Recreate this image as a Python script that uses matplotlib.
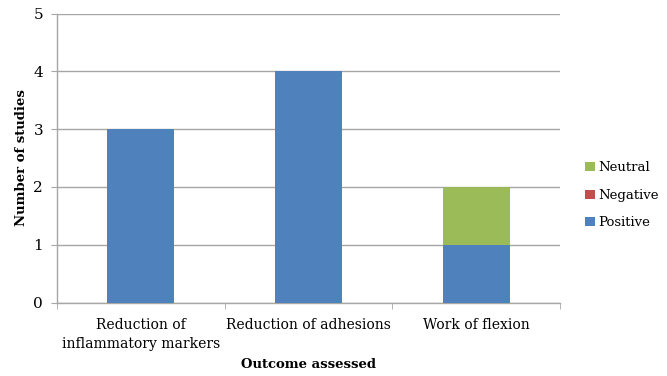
import matplotlib
matplotlib.use("Agg")
import matplotlib.pyplot as plt
import numpy as np

categories = ["Reduction of\ninflammatory markers", "Reduction of adhesions", "Work of flexion"]
positive = [3, 4, 1]
negative = [0, 0, 0]
neutral = [0, 0, 1]

plt.rcParams['font.family'] = ['DejaVu Serif']
fs = 9.5

fig = plt.figure(figsize=(6.67, 3.76), dpi=100)
ax = fig.add_axes([57/667, 1-302.5/376, (560-57)/667, (302.5-13.5)/376])

x = np.arange(len(categories))
w = 0.4
pos = np.array(positive); neg = np.array(negative); neu = np.array(neutral)
b1 = ax.bar(x, pos, w, color='#4F81BD', label='Positive', zorder=3)
b2 = ax.bar(x, neg, w, bottom=pos, color='#C0504D', label='Negative', zorder=3)
b3 = ax.bar(x, neu, w, bottom=pos+neg, color='#9BBB59', label='Neutral', zorder=3)

ax.set_xlim(-0.5, 2.5)
ax.set_ylim(0, 5)
ax.set_yticks(range(6))
ax.yaxis.grid(True, color='#A6A6A6', linewidth=1.0, zorder=0)
ax.set_axisbelow(True)
for s in ['top', 'right']:
    ax.spines[s].set_visible(False)
for s in ['left', 'bottom']:
    ax.spines[s].set_color('#A6A6A6')
    ax.spines[s].set_linewidth(1.0)

ax.set_xticks(x)
ax.set_xticklabels(categories, fontsize=fs+0.5, linespacing=1.45)
ax.tick_params(axis='x', length=0, pad=11)
ax.set_xticks([-0.5, 0.5, 1.5, 2.5], minor=True)
ax.tick_params(axis='x', which='minor', length=4, color='#A6A6A6', direction='out')
ax.tick_params(axis='y', length=4, color='#A6A6A6', labelsize=fs+1.5, pad=6)

ax.set_ylabel('Number of studies', fontsize=fs, fontweight='bold', labelpad=4)
ax.set_xlabel('Outcome assessed', fontsize=fs, fontweight='bold', labelpad=5)

handles = [b3, b2, b1]
leg = fig.legend(handles, ['Neutral', 'Negative', 'Positive'], loc='upper left',
                 bbox_to_anchor=(580/667, 1-156/376), frameon=False, fontsize=fs,
                 handlelength=0.7, handleheight=0.7, handletextpad=0.3, labelspacing=1.1,
                 borderaxespad=0)

fig.savefig('out.png', dpi=100)
